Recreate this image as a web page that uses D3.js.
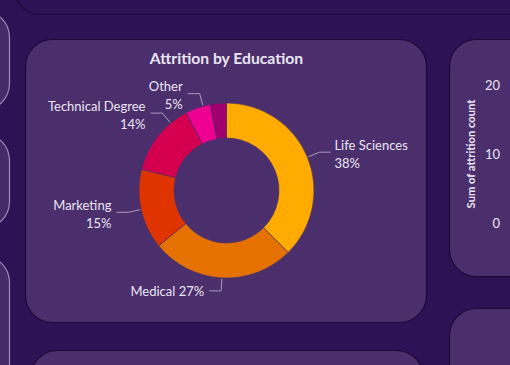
<!DOCTYPE html>
<html>
<head>
<meta charset="utf-8">
<script src="https://cdn.jsdelivr.net/npm/d3@7"></script>
<style>
  html, body { margin: 0; padding: 0; background: #2E1256; }
  svg { display: block; }
  text { font-family: Lato, "Open Sans", sans-serif; }
</style>
</head>
<body>
<svg id="chart" width="510" height="365"></svg>
<script>
// ---- data ----
const categories = ["Life Sciences", "Medical", "Marketing", "Technical Degree", "Other", "Human Resources"];
const attritionCount = [89, 63, 35, 32, 11, 7];
const sliceColors = ["#FFAB00", "#E57200", "#E03400", "#D4004F", "#EE0093", "#A0006E"];
const axisTicks = [0, 10, 20];
const chartTitle = "Attrition by Education";
const axisTitle = "Sum of attrition count";

// ---- layout ----
const W = 510, H = 365;
const bg = "#2E1256", panel = "#4A2F6C", panelStroke = "#1C0A36", lightStroke = "#9C8DB4";
const textColor = "#EAE5F2", leaderColor = "#A79BBC";
const labelSize = 13;
const svg = d3.select("#chart");

svg.append("rect").attr("width", W).attr("height", H).attr("fill", bg);

// surrounding dashboard cards
const cards = [
  {x: 13, y: -40, w: 600, h: 54, fill: bg, stroke: panelStroke},
  {x: -100, y: 10, w: 109, h: 100, fill: "#472B69", stroke: lightStroke},
  {x: -100, y: 133, w: 109, h: 95, fill: "#472B69", stroke: lightStroke},
  {x: -100, y: 255, w: 109, h: 160, fill: "#472B69", stroke: lightStroke},
  {x: 449, y: 39, w: 120, h: 237, fill: panel, stroke: panelStroke},
  {x: 449, y: 308, w: 120, h: 120, fill: panel, stroke: panelStroke},
  {x: 30, y: 350, w: 393, h: 100, fill: panel, stroke: panelStroke},
  {x: 25, y: 39, w: 401, h: 283, fill: panel, stroke: panelStroke}
];
svg.selectAll("rect.card").data(cards).join("rect")
  .attr("class", "card")
  .attr("x", d => d.x + 0.5).attr("y", d => d.y + 0.5)
  .attr("width", d => d.w).attr("height", d => d.h)
  .attr("rx", 27).attr("ry", 27)
  .attr("fill", d => d.fill).attr("stroke", d => d.stroke).attr("stroke-width", 1.2);

// title
svg.append("text")
  .attr("x", 226.5).attr("y", 59).attr("dy", "0.35em")
  .attr("text-anchor", "middle")
  .attr("fill", textColor).attr("font-size", 15.7).attr("font-weight", 700)
  .text(chartTitle);

// donut
const cx = 226.5, cy = 190.5, rOuter = 87.5, rInner = 52.5;
const g = svg.append("g").attr("transform", `translate(${cx},${cy})`);
const data = categories.map((c, i) => ({name: c, value: attritionCount[i], color: sliceColors[i]}));
const total = d3.sum(data, d => d.value);
const pie = d3.pie().sort(null).value(d => d.value);
const arcs = pie(data);
const arc = d3.arc().innerRadius(rInner).outerRadius(rOuter);

g.selectAll("path.slice").data(arcs).join("path")
  .attr("class", "slice")
  .attr("d", arc)
  .attr("fill", d => d.data.color)
  .attr("stroke", panel).attr("stroke-width", 0.6);

// labels
const pct = d3.format(".0%");
const angleNudge = {"Technical Degree": 12 * Math.PI / 180, "Other": 3.5 * Math.PI / 180};
const pt = (a, r) => [Math.sin(a) * r, -Math.cos(a) * r];
const labelArcs = arcs.filter(d => d.value / total >= 0.04);

labelArcs.forEach(d => {
  const a = (d.startAngle + d.endAngle) / 2 + (angleNudge[d.data.name] || 0);
  const p0 = pt(a, rOuter + 1);
  const p1 = pt(a, 100.5);
  const right = Math.sin(a) >= 0;
  const bottom = Math.abs(a - Math.PI) < 0.35;
  const hx = right ? 11 : -12;
  const p2 = [p1[0] + hx, p1[1]];
  g.append("polyline")
    .attr("points", [p0, p1, p2].map(p => p.join(",")).join(" "))
    .attr("fill", "none").attr("stroke", leaderColor).attr("stroke-width", 1);
  const tx = p2[0] + (right ? 4 : -5);
  const anchor = right ? "start" : "end";
  const label = `${d.data.name}`;
  const share = pct(d.data.value / total);
  if (bottom) {
    g.append("text").attr("x", tx).attr("y", p2[1] + 1).attr("dy", "0.35em")
      .attr("text-anchor", anchor).attr("fill", textColor).attr("font-size", labelSize)
      .text(`${label} ${share}`);
  } else {
    g.append("text").attr("x", tx).attr("y", p2[1] - 7).attr("dy", "0.35em")
      .attr("text-anchor", anchor).attr("fill", textColor).attr("font-size", labelSize)
      .text(label);
    g.append("text").attr("x", tx).attr("y", p2[1] + 11).attr("dy", "0.35em")
      .attr("text-anchor", anchor).attr("fill", textColor).attr("font-size", labelSize)
      .text(share);
  }
});

// partial neighbouring chart axis
const y = d3.scaleLinear().domain([0, 20]).range([223, 85]);
const axis = d3.axisLeft(y).tickValues(axisTicks).tickSize(0).tickPadding(0);
const ax = svg.append("g").attr("transform", "translate(500,0)").call(axis);
ax.select(".domain").remove();
ax.selectAll("text").attr("fill", textColor).attr("font-size", 13)
  .attr("font-family", "Lato, 'Open Sans', sans-serif");
svg.append("text")
  .attr("transform", `translate(471,${(y(0) + y(20)) / 2}) rotate(-90)`)
  .attr("text-anchor", "middle").attr("dy", "0.35em")
  .attr("fill", textColor).attr("font-size", 11.2).attr("font-weight", 700)
  .text(axisTitle);
</script>
</body>
</html>
